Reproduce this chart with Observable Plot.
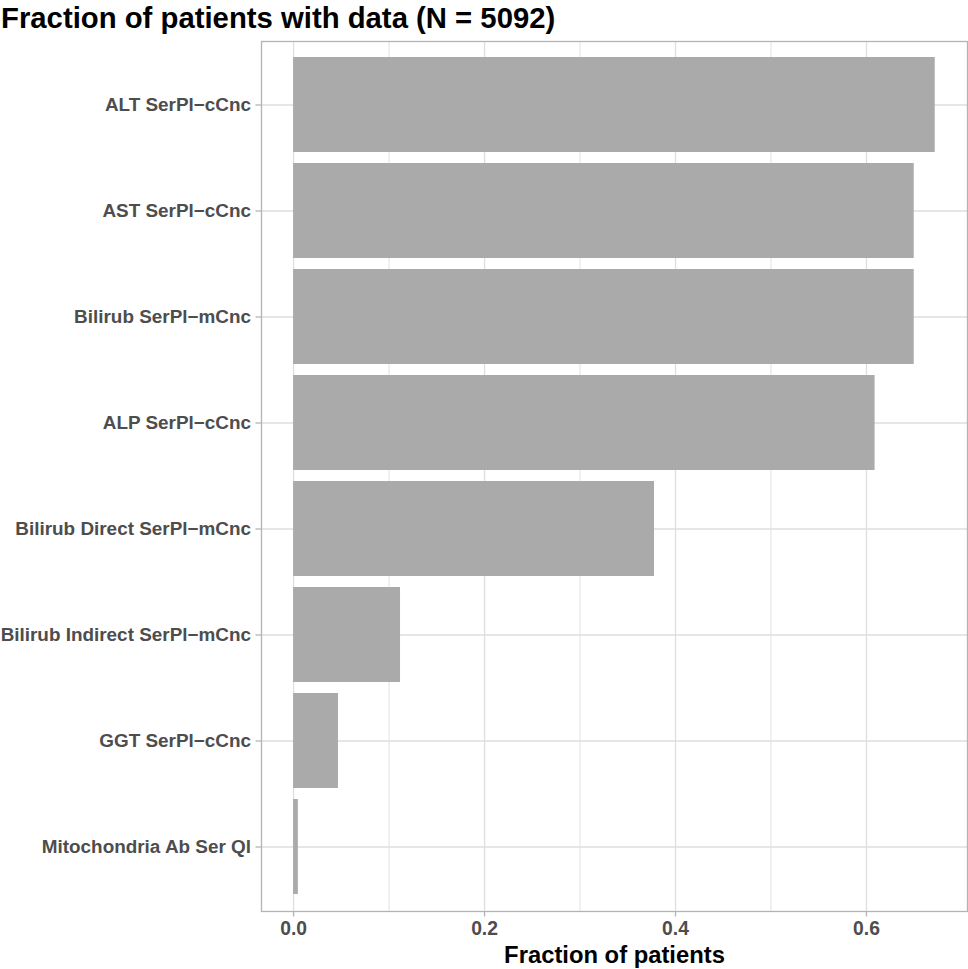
<!DOCTYPE html>
<html>
<head>
<meta charset="utf-8">
<script src="https://cdn.jsdelivr.net/npm/d3@7"></script>
<script src="https://cdn.jsdelivr.net/npm/@observablehq/plot@0.6"></script>
<style>
  html, body { margin: 0; padding: 0; background: #fff; }
  #wrap { position: relative; width: 968px; height: 969px; font-family: "Liberation Sans", Arial, sans-serif; }
  #title { position: absolute; left: 1px; top: 0px; font-size: 29.3px; font-weight: bold; color: #000; line-height: 36px; white-space: nowrap; }
</style>
</head>
<body>
<div id="wrap">
  <div id="title">Fraction of patients with data (N = 5092)</div>
  <div id="chart"></div>
</div>
<script>
const categories = [
  "ALT SerPl−cCnc",
  "AST SerPl−cCnc",
  "Bilirub SerPl−mCnc",
  "ALP SerPl−cCnc",
  "Bilirub Direct SerPl−mCnc",
  "Bilirub Indirect SerPl−mCnc",
  "GGT SerPl−cCnc",
  "Mitochondria Ab Ser Ql"
];
const fractions = [0.672, 0.650, 0.650, 0.609, 0.378, 0.112, 0.047, 0.005];
const xTicks = [0, 0.2, 0.4, 0.6];
const xMinorTicks = [0.1, 0.3, 0.5];
const xLabel = "Fraction of patients";

const data = categories.map((c, i) => ({category: c, fraction: fractions[i]}));

const chart = Plot.plot({
  width: 968,
  height: 969,
  marginTop: 41,
  marginBottom: 58,
  marginLeft: 261,
  marginRight: 1,
  style: {fontFamily: '"Liberation Sans", Arial, sans-serif', background: "#fff"},
  x: {domain: [-0.0336, 0.7058]},
  y: {domain: categories, paddingInner: 0.1, paddingOuter: 0.14},
  marks: [
    Plot.ruleX(xMinorTicks, {x: d => d, stroke: "#dedede", strokeWidth: 0.9}),
    Plot.ruleX(xTicks, {x: d => d, stroke: "#dedede", strokeWidth: 1.3}),
    Plot.gridY({stroke: "#dedede", strokeOpacity: 1, strokeWidth: 1.3}),
    Plot.barX(data, {x1: 0, x2: "fraction", y: "category", fill: "#aaaaaa"}),
    Plot.frame({stroke: "#b3b3b3", strokeWidth: 1.3}),
    Plot.axisY({
      tickSize: 5.5, tickPadding: 5, fontSize: 18.9, fontWeight: "bold",
      fill: "#4d4d4d", stroke: "#b3b3b3", strokeWidth: 1.3, label: null
    }),
    Plot.axisX({
      ticks: xTicks, tickFormat: d3.format(".1f"),
      tickSize: 5.5, tickPadding: 4, fontSize: 19.3, fontWeight: "bold",
      fill: "#4d4d4d", stroke: "#b3b3b3", strokeWidth: 1.3, label: null
    }),
    Plot.text([xLabel], {
      text: d => d, frameAnchor: "bottom", dy: 44, fontSize: 23.8, fontWeight: "bold",
      fill: "#000", lineAnchor: "middle"
    })
  ]
});
document.getElementById("chart").appendChild(chart);
</script>
</body>
</html>
